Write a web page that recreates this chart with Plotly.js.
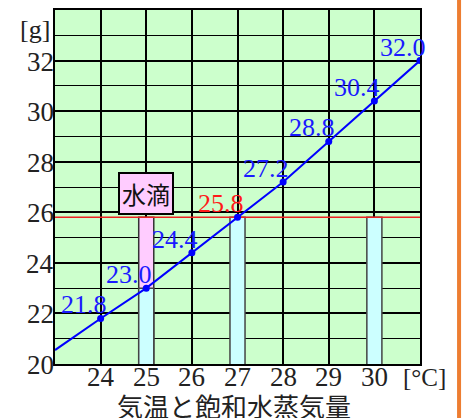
<!DOCTYPE html>
<html>
<head>
<meta charset="utf-8">
<script src="https://cdn.plot.ly/plotly-3.0.1.min.js"></script>
<style>html,body{margin:0;padding:0;background:#fff;}</style>
</head>
<body>
<div id="chart" style="width:465px;height:418px;"></div>
<script>
// ---- data ----
const temps = [24, 25, 26, 27, 28, 29, 30, 31];
const vapor = [21.8, 23.0, 24.4, 25.8, 27.2, 28.8, 30.4, 32.0];
const vaporLabels = ['21.8', '23.0', '24.4', '25.8', '27.2', '28.8', '30.4', '32.0'];
const labelColors = ['#1a1aff', '#1a1aff', '#1a1aff', '#ff1a1a', '#1a1aff', '#1a1aff', '#1a1aff', '#1a1aff'];
const lineStartX = 23;
const lineStartY = 20.55;
const dewPoint = 25.8;
const barX = [25, 27, 30];
const barTop = [23.0, 25.8, 25.8];
const dropletX = [25];
const dropletTop = [25.8];
const xTicks = [24, 25, 26, 27, 28, 29, 30];
const yTicks = [20, 22, 24, 26, 28, 30, 32];
const titleText = '気温と飽和水蒸気量';
const dropletText = '水滴';
const xUnit = '[°C]';
const yUnit = '[g]';

const serif = 'Liberation Serif, Noto Sans CJK JP, serif';
const cjk = 'Noto Sans CJK JP, sans-serif';

const traces = [
  { type: 'bar', x: dropletX, y: dropletTop, width: 0.33,
    marker: { color: '#ffccff', line: { color: '#333333', width: 1.5 } },
    hoverinfo: 'skip', showlegend: false },
  { type: 'bar', x: barX, y: barTop, width: 0.33,
    marker: { color: '#ccffff', line: { color: '#444444', width: 1.5 } },
    hoverinfo: 'skip', showlegend: false },
  { type: 'scatter', mode: 'lines', x: [lineStartX, temps[temps.length - 1]], y: [dewPoint, dewPoint],
    line: { color: '#ee2222', width: 1.5 }, hoverinfo: 'skip', showlegend: false },
  { type: 'scatter', mode: 'lines', x: [lineStartX].concat(temps), y: [lineStartY].concat(vapor),
    line: { color: '#0000ff', width: 2 }, hoverinfo: 'skip', showlegend: false },
  { type: 'scatter', mode: 'markers', x: temps, y: vapor,
    marker: { color: '#0000ff', size: 7 }, hoverinfo: 'skip', showlegend: false }
];

const annotations = temps.map((t, i) => ({
  x: t, y: vapor[i], xref: 'x', yref: 'y', text: vaporLabels[i], showarrow: false,
  xanchor: 'right', yanchor: 'bottom', xshift: 8, yshift: -3,
  font: { family: serif, size: 26, color: labelColors[i] }
}));
// x tick labels
xTicks.forEach(t => annotations.push({
  x: t, y: -0.037, xref: 'x', yref: 'paper', text: String(t), showarrow: false,
  xanchor: 'center', yanchor: 'middle', font: { family: serif, size: 27, color: '#222222' }
}));
// y tick labels
yTicks.forEach(v => annotations.push({
  x: 0, y: v, xref: 'paper', yref: 'y', text: String(v), showarrow: false,
  xanchor: 'right', yanchor: 'middle', xshift: 1, yshift: -1,
  font: { family: serif, size: 27, color: '#222222' }
}));
annotations.push({
  x: dropletX[0], y: 26.75, xref: 'x', yref: 'y', text: dropletText, showarrow: false,
  xanchor: 'center', yanchor: 'middle', bgcolor: '#ffccff', bordercolor: '#000000',
  borderwidth: 2, borderpad: 2, font: { family: cjk, size: 24, color: '#111111' }
});
annotations.push({
  x: -0.008, y: 0.946, xref: 'paper', yref: 'paper', text: yUnit, showarrow: false,
  xanchor: 'right', yanchor: 'middle', font: { family: serif, size: 26, color: '#222222' }
});
annotations.push({
  x: 1.011, y: -0.037, xref: 'paper', yref: 'paper', text: xUnit, showarrow: false,
  xanchor: 'center', yanchor: 'middle', font: { family: serif, size: 25, color: '#222222' }
});
annotations.push({
  x: 0.49, y: -0.117, xref: 'paper', yref: 'paper', text: titleText, showarrow: false,
  xanchor: 'center', yanchor: 'middle', font: { family: cjk, size: 26, color: '#222222' }
});

const layout = {
  width: 465, height: 418,
  margin: { l: 55, r: 45, t: 10, b: 54 },
  paper_bgcolor: '#ffffff', plot_bgcolor: '#ccffcc',
  barmode: 'overlay',
  showlegend: false,
  xaxis: {
    range: [23, 31], tickvals: xTicks, showticklabels: false,
    showgrid: true, gridcolor: '#000000', gridwidth: 2, zeroline: false,
    showline: true, linecolor: '#000000', linewidth: 2, mirror: true, ticks: ''
  },
  yaxis: {
    range: [20, 34], tickvals: yTicks, showticklabels: false,
    showgrid: true, gridcolor: '#000000', gridwidth: 2, zeroline: false,
    showline: true, linecolor: '#000000', linewidth: 2, mirror: true, ticks: '',
    minor: { dtick: 1, tick0: 21, showgrid: true, gridcolor: '#000000', gridwidth: 1 }
  },
  shapes: [
    { type: 'line', xref: 'paper', yref: 'paper', x0: 1.107, x1: 1.107, y0: -0.2, y1: 1.05,
      line: { color: '#ed7d31', width: 4 } }
  ],
  annotations: annotations
};

Plotly.newPlot('chart', traces, layout, { displayModeBar: false, staticPlot: true });
</script>
</body>
</html>
